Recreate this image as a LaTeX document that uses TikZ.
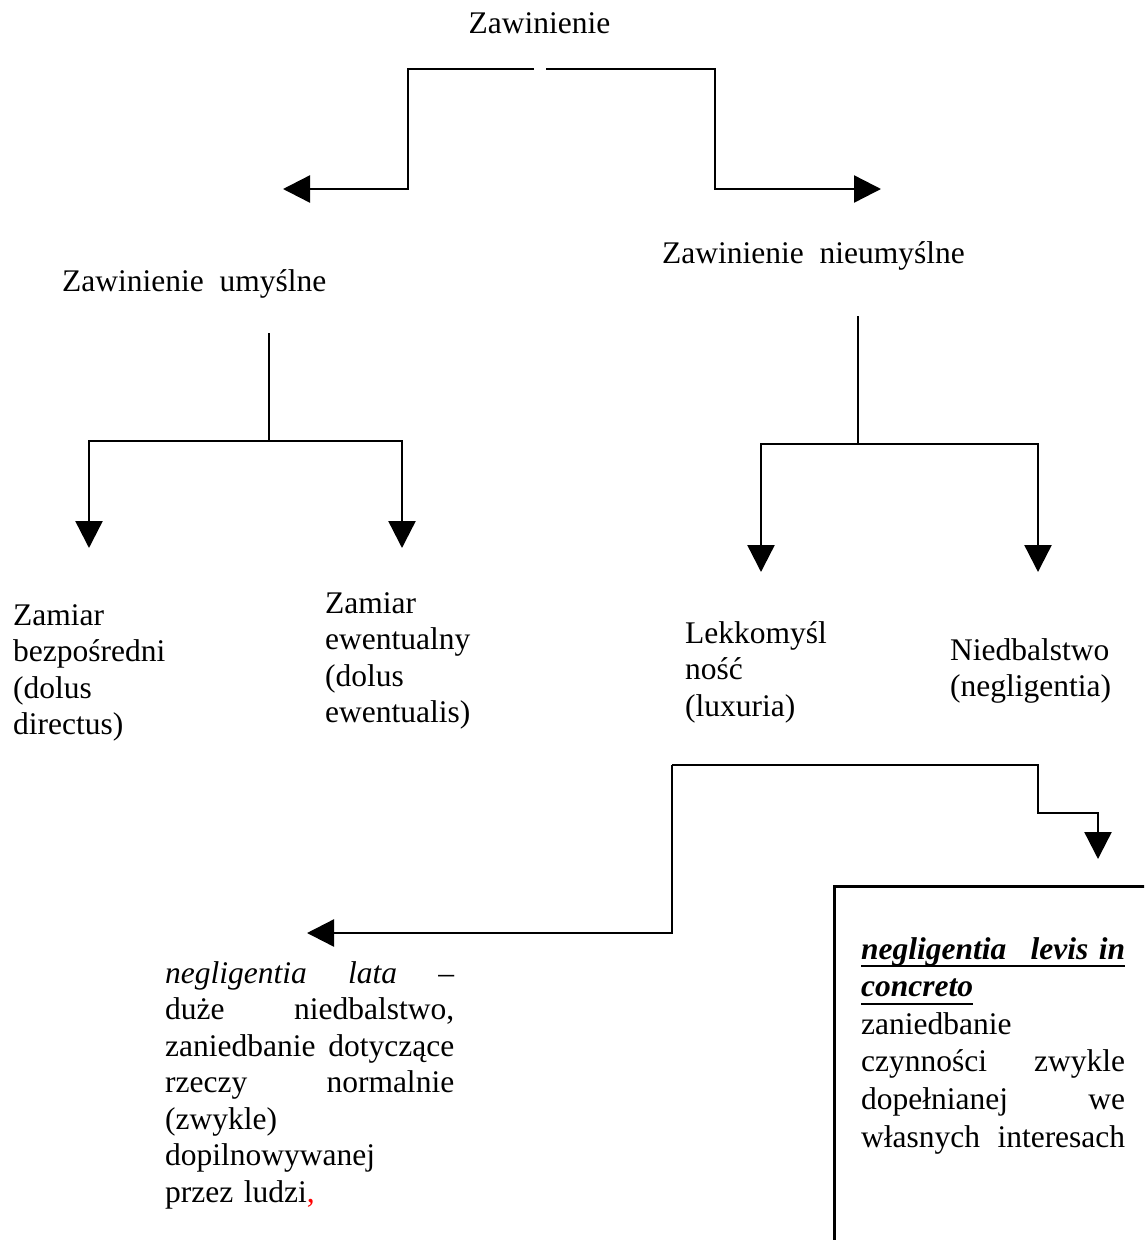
\documentclass[tikz,border=0pt]{standalone}
\usepackage{fontspec}
\setmainfont{Liberation Serif}
\usepackage{xcolor}
\usepackage{tikz}
\usetikzlibrary{arrows.meta, positioning, calc}
\definecolor{ZawInk}{RGB}{0, 0, 0}
\definecolor{ZawRed}{RGB}{255, 0, 0}
\newsavebox{\zawulbox}
\newcommand{\zawul}[1]{\leavevmode\sbox{\zawulbox}{#1}\rlap{\rule[-8pt]{\wd\zawulbox}{2pt}}\usebox{\zawulbox}}

\begin{document}
\begin{tikzpicture}[x=1pt, y=-1pt,
    zawtext/.style={inner sep=0pt, anchor=base west, text=ZawInk,
      font=\fontsize{31.5}{36.5}\selectfont},
    zawblock/.style={zawtext, align=left, text width=#1},
    zawline/.style={draw=ZawInk, line width=2.4pt},
    zawarrow/.style={zawline, -{Triangle[length=27pt, width=27pt]}}]
    \useasboundingbox (0,0) rectangle (1144,1240);
    \clip (0,0) rectangle (1144,1240);

    \node[zawtext, anchor=base] (zawinienie) at (539.5,33) {Zawinienie};
    \node[zawtext] (umyslne) at (62,291) {Zawinienie\ \ umyślne};
    \node[zawtext] (nieumyslne) at (662,263) {Zawinienie\ \ nieumyślne};

    \node[zawblock=200pt] (bezposredni) at (13,625) {Zamiar\\bezpośredni\\(dolus\\directus)};
    \node[zawblock=200pt] (ewentualny) at (325,613) {Zamiar\\ewentualny\\(dolus\\ewentualis)};
    \node[zawblock=200pt] (lekkomyslnosc) at (685,643) {Lekkomyśl\\ność\\(luxuria)};
    \node[zawblock=190pt] (niedbalstwo) at (950,660) {Niedbalstwo\\(negligentia)};

    \node[zawblock=289pt] (lata) at (165,983) {\textit{negligentia}\hfill\textit{lata}\hfill –\\
      duże\hfill niedbalstwo,\\
      zaniedbanie\hfill dotyczące\\
      rzeczy\hfill normalnie\\
      (zwykle)\\
      dopilnowywanej\\
      przez ludzi{\color{ZawRed},}};

    \node[draw=ZawInk, line width=2.8pt, anchor=north west, inner sep=0pt,
          minimum width=340pt, minimum height=400pt] (levisframe) at (833,885) {};
    \node[zawblock=264pt, font=\fontsize{31.5}{37.6}\selectfont] (levis) at (861,959) {%
      \zawul{\makebox[\linewidth][s]{\textbf{\textit{negligentia}}\hfill\textbf{\textit{levis in}}}}\\
      \zawul{\textbf{\textit{concreto}}}\\
      zaniedbanie\\
      czynności\hfill zwykle\\
      dopełnianej\hfill we\\
      własnych\hfill interesach};

    \coordinate (rootL) at (534,69);
    \coordinate (rootR) at (546,69);
    \coordinate (umyslBend) at (408,189);
    \coordinate (umyslTip) at (283,189);
    \coordinate (nieumBend) at (715,189);
    \coordinate (nieumTip) at (881,189);
    \draw[zawarrow] (rootL) -| (umyslBend) -- (umyslTip);
    \draw[zawarrow] (rootR) -| (nieumBend) -- (nieumTip);

    \coordinate (umyslTop) at (269,333);
    \coordinate (umyslFork) at (269,441);
    \coordinate (bezTip) at (89,548);
    \coordinate (ewTip) at (402,548);
    \draw[zawline] (umyslTop) -- (umyslFork);
    \draw[zawarrow] (umyslFork) -| (bezTip);
    \draw[zawarrow] (umyslFork) -| (ewTip);

    \coordinate (nieumTop) at (858,316);
    \coordinate (nieumFork) at (858,444);
    \coordinate (luxTip) at (761,572);
    \coordinate (negTip) at (1038,572);
    \draw[zawline] (nieumTop) -- (nieumFork);
    \draw[zawarrow] (nieumFork) -| (luxTip);
    \draw[zawarrow] (nieumFork) -| (negTip);

    \coordinate (lataSplit) at (672,765);
    \coordinate (levisStep) at (1038,813);
    \coordinate (levisTip) at (1098,859);
    \coordinate (lataTip) at (307,933);
    \draw[zawarrow] (lataSplit) -| (levisStep) -| (levisTip);
    \draw[zawarrow] (lataSplit) |- (lataTip);
\end{tikzpicture}
\end{document}
